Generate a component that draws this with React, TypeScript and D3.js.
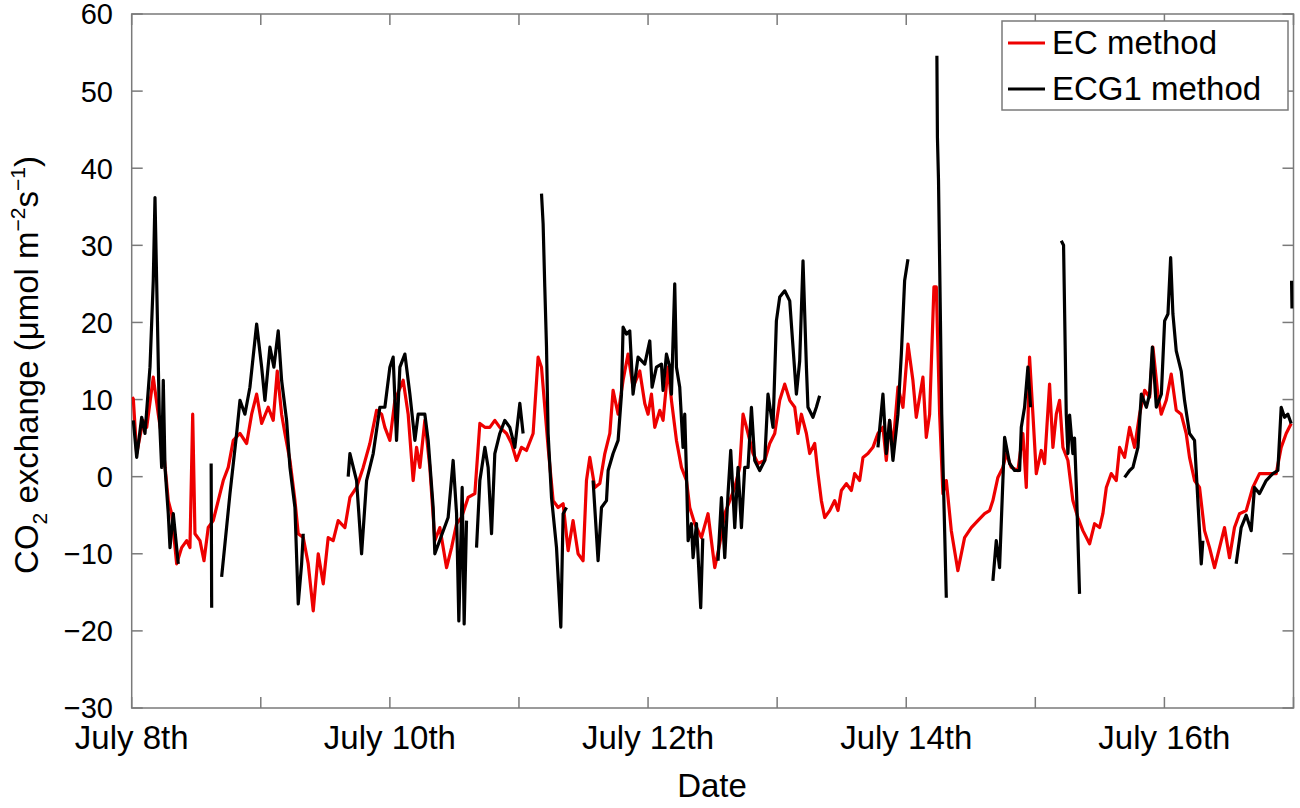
import * as d3 from "d3";

// hours since July 8th 00:00, CO2 exchange (umol m-2 s-1)
const ecSeries: [number, number][] = [
  [0.06, 10.3], [0.3, 10.1], [0.93, 3.0], [2.1, 7.3], [2.79, 6.4], [4.01, 12.9], [4.94, 8.1],
  [5.87, 3.8], [6.8, -3.1], [7.43, -4.8], [8.36, -11.3], [9.29, -9.2], [10.22, -8.3], [10.83, -9.2],
  [11.34, 8.1], [11.76, -7.4], [12.69, -8.3], [13.44, -10.9], [14.23, -6.6], [15.16, -5.7],
  [16.09, -3.1], [17.02, -0.5], [17.95, 1.2], [18.88, 4.7], [20.13, 5.6], [21.37, 4.3], [22.3, 8.1],
  [23.23, 10.7], [24.16, 6.9], [25.38, 9.0], [26.31, 7.3], [27.06, 13.7], [27.87, 8.1], [28.49, 5.6],
  [29.42, 2.1], [30.35, -3.1], [30.96, -7.4], [31.89, -7.9], [32.82, -11.3], [33.75, -17.4],
  [34.68, -10.0], [35.61, -13.9], [36.53, -7.9], [37.46, -8.3], [38.39, -5.7], [39.64, -6.6],
  [40.57, -2.7], [41.81, -1.4], [43.04, 1.2], [44.28, 4.3], [45.53, 8.6], [46.46, 8.1], [47.07, 6.4],
  [48.0, 4.7], [48.93, 9.9], [50.47, 12.5], [51.4, 8.1], [52.33, -0.5], [52.96, 3.8], [53.58, 1.2],
  [54.5, 7.3], [55.43, 1.2], [56.36, -8.3], [57.29, -6.6], [58.54, -11.8], [59.47, -9.2],
  [60.4, -6.1], [61.32, -5.3], [62.55, -2.7], [63.8, -2.2], [64.73, 6.9], [65.66, 6.4], [66.58, 6.4],
  [67.51, 7.3], [68.44, 6.4], [69.69, 5.6], [70.62, 4.3], [71.55, 2.1], [72.47, 3.8], [73.4, 3.4],
  [74.63, 5.6], [75.56, 15.5], [76.19, 14.2], [77.42, 3.8], [78.35, -3.1], [79.28, -4.0],
  [80.21, -3.5], [81.14, -9.6], [82.06, -5.7], [82.99, -10.0], [83.92, -10.9], [84.55, -0.5],
  [85.17, 2.5], [86.1, -1.4], [87.03, -0.9], [87.96, 3.0], [88.89, 5.6], [89.5, 11.2], [90.43, 8.1],
  [91.36, 12.5], [92.28, 15.9], [93.21, 11.6], [94.46, 13.7], [95.39, 9.5], [96.0, 8.1],
  [96.63, 10.7], [97.25, 6.4], [98.18, 8.6], [98.79, 7.3], [99.72, 14.2], [100.35, 9.9],
  [101.28, 4.7], [102.21, 1.2], [103.14, -0.5], [103.75, -4.0], [104.68, -6.1], [105.92, -7.9],
  [107.15, -4.8], [108.4, -11.8], [109.33, -8.7], [110.26, -4.8], [111.19, -3.1], [112.12, -1.4],
  [113.05, 1.2], [113.66, 8.1], [114.59, 5.6], [115.52, 3.0], [116.44, 1.7], [117.69, 2.1],
  [118.62, 4.3], [119.55, 5.6], [120.48, 9.9], [121.41, 12.0], [122.34, 9.9], [123.27, 9.0],
  [123.88, 5.6], [124.51, 8.1], [125.44, 5.6], [126.05, 3.0], [126.98, 4.3], [127.59, 0.4],
  [128.22, -3.1], [128.84, -5.3], [129.77, -4.4], [130.7, -3.1], [131.31, -4.4], [131.94, -1.8],
  [132.87, -0.9], [133.8, -1.8], [134.41, 0.4], [135.34, -0.5], [135.96, 2.5], [136.88, 3.0],
  [137.81, 3.8], [138.74, 5.6], [139.67, 6.4], [140.3, 2.1], [140.91, 7.3], [141.53, 3.8],
  [142.46, 11.6], [143.39, 9.0], [144.32, 17.2], [145.24, 12.5], [145.87, 7.7], [147.1, 12.9],
  [147.73, 5.1], [148.35, 8.1], [149.15, 24.6], [149.59, 24.6], [150.21, 8.1], [150.82, -2.2],
  [151.45, -0.5], [152.38, -7.0], [153.6, -12.2], [154.85, -7.9], [156.1, -6.6], [157.32, -5.7],
  [158.57, -4.8], [159.5, -4.4], [160.11, -3.1], [161.04, -0.1], [161.97, 1.2], [162.6, 3.0],
  [163.53, 1.2], [164.76, 0.8], [165.69, 5.6], [166.32, -1.4], [166.93, 15.5], [167.55, 8.1],
  [168.18, 0.4], [169.11, 3.4], [169.72, 1.7], [170.65, 12.0], [171.27, 3.8], [171.9, 8.1],
  [172.51, 9.9], [173.13, 3.8], [174.06, 2.1], [174.98, -3.1], [175.91, -5.3], [176.84, -7.0],
  [178.09, -8.7], [179.02, -6.1], [179.95, -6.6], [180.56, -4.8], [181.2, -1.4], [182.12, 0.4],
  [183.05, -0.5], [183.67, 3.8], [184.6, 2.5], [185.53, 6.4], [186.46, 3.8], [187.39, 8.1],
  [188.32, 11.2], [189.25, 10.3], [189.86, 16.8], [190.78, 10.7], [191.41, 8.1], [192.34, 9.9],
  [193.27, 13.3], [194.2, 8.6], [195.12, 8.1], [196.05, 5.6], [196.67, 2.5], [197.6, -0.5],
  [198.53, -1.4], [199.46, -7.0], [200.39, -9.2], [201.32, -11.8], [202.25, -9.2], [203.17, -6.6],
  [204.1, -10.5], [205.03, -6.6], [205.96, -4.8], [207.21, -4.4], [208.43, -1.4], [209.68, 0.4],
  [210.92, 0.4], [212.78, 0.4], [213.71, 3.8], [214.64, 5.6], [215.57, 6.9],
];

// null marks a gap in the ECG1 record
const ecg1Series: [number, number | null][] = [
  [0.3, 7.3], [0.93, 2.5], [1.86, 7.7], [2.47, 5.6], [3.4, 14.2], [4.01, 25.4], [4.33, 36.2],
  [4.76, 21.1], [5.13, 8.1], [5.57, 1.2], [5.87, 12.5], [6.19, 1.2], [6.8, -4.8], [7.12, -9.2],
  [7.73, -4.8], [8.66, -11.3], [9.0, null],
  [14.77, 1.7], [14.87, -17.0], [15.5, null],
  [16.72, -13.0], [18.27, -2.2], [19.51, 5.6], [20.13, 9.9], [21.05, 8.1], [21.98, 11.6],
  [23.23, 19.8], [24.16, 14.2], [24.77, 9.9], [25.7, 16.8], [26.44, 14.2], [27.24, 18.9],
  [27.87, 12.5], [28.8, 7.3], [29.42, 1.2], [30.35, -4.0], [30.96, -16.5], [31.59, -11.3],
  [31.89, -7.4], [32.5, null],
  [40.25, 0.0], [40.57, 3.0], [41.81, -0.5], [42.74, -10.0], [43.67, -0.5], [44.9, 3.0],
  [46.14, 9.0], [47.07, 9.0], [48.0, 14.2], [48.61, 15.5], [49.24, 4.7], [49.86, 14.2],
  [50.79, 15.9], [51.72, 10.7], [52.65, 4.7], [53.26, 8.1], [54.5, 8.1], [55.12, 4.7],
  [56.05, -4.0], [56.36, -10.0], [58.83, -5.3], [59.76, 2.1], [60.4, -4.8], [60.82, -18.7],
  [61.44, -1.4], [61.81, -19.1], [62.25, -5.7], [63.0, null],
  [64.11, -9.2], [64.73, -0.5], [65.66, 3.8], [66.27, 1.2], [66.9, -7.4], [67.51, 3.0],
  [68.44, 5.6], [69.37, 7.3], [70.3, 6.4], [71.23, 3.8], [72.16, 9.5], [72.77, 5.6], [73.5, null],
  [76.19, 36.7], [76.49, 32.8], [76.8, 24.6], [77.12, 16.8], [77.42, 5.6], [78.05, -2.7],
  [78.98, -9.2], [79.78, -19.5], [80.21, -4.8], [80.84, -4.0], [81.5, null],
  [85.78, -0.5], [86.71, -10.9], [87.34, -4.0], [88.27, -3.1], [88.58, 0.8], [89.5, 3.0],
  [90.43, 4.7], [91.06, 10.7], [91.36, 19.4], [91.98, 18.5], [92.6, 18.9], [93.21, 10.7],
  [94.14, 15.5], [95.39, 14.6], [96.32, 17.6], [96.75, 11.6], [97.56, 14.2], [98.49, 14.6],
  [98.79, 11.2], [99.42, 15.9], [100.04, 14.2], [100.35, 10.7], [100.96, 25.0], [101.28, 14.2],
  [101.89, 11.6], [102.5, 3.8], [102.82, 8.1], [103.14, 0.4], [103.45, -8.3], [104.06, -6.1],
  [104.37, -10.5], [105.0, -6.1], [105.79, -17.0], [106.17, -8.0], [106.8, null],
  [109.01, -10.9], [109.64, -2.7], [110.26, -10.5], [110.87, -2.2], [111.37, 3.4], [112.12, -6.6],
  [112.73, 1.2], [113.36, -6.6], [113.97, 1.2], [114.59, 1.2], [115.22, 9.0], [115.83, 2.1],
  [116.76, 0.8], [117.69, 2.1], [118.3, 10.7], [119.23, 6.4], [119.86, 20.2], [120.48, 23.3],
  [121.41, 24.1], [122.34, 22.8], [122.95, 16.8], [123.58, 10.7], [124.19, 15.0], [124.81, 28.0],
  [125.44, 14.2], [125.73, 9.0], [126.66, 7.7], [127.29, 9.0], [127.9, 10.5], [128.5, null],
  [138.74, 3.8], [139.67, 10.7], [140.3, 3.0], [140.91, 7.3], [141.53, 2.1], [142.46, 8.1],
  [143.09, 15.9], [143.7, 25.4], [144.32, 28.2], [145.0, null],
  [149.7, 54.6], [149.8, 44.0], [150.0, 38.4], [150.6, 8.1], [151.45, -15.7], [152.0, null],
  [160.11, -13.5], [160.74, -8.3], [161.35, -11.8], [161.97, -0.5], [162.29, 5.1], [163.22, 1.7],
  [164.15, 0.8], [165.08, 0.8], [165.39, 6.4], [166.0, 9.0], [166.62, 14.2], [167.12, 9.0],
  [168.0, null],
  [172.82, 30.6], [173.25, 30.0], [173.75, 8.1], [174.06, 3.0], [174.37, 8.0], [174.98, 3.0],
  [175.29, 5.0], [175.67, -2.2], [176.22, -15.2], [177.0, null],
  [184.6, -0.1], [185.53, 0.8], [186.15, 1.2], [187.08, 3.8], [187.71, 10.7], [188.64, 9.0],
  [189.25, 10.7], [189.76, 16.8], [190.5, 9.0], [191.43, 10.7], [192.04, 20.2], [192.66, 21.1],
  [193.16, 28.4], [193.58, 21.1], [194.2, 16.3], [195.12, 13.7], [195.74, 9.9], [196.67, 5.6],
  [197.6, 4.7], [198.22, -3.1], [198.85, -11.3], [199.15, -8.3], [200.0, null],
  [205.34, -11.3], [206.27, -6.6], [207.21, -5.0], [208.14, -7.0], [208.75, -1.4], [209.68, -2.2],
  [210.92, -0.5], [212.16, 0.4], [213.09, 0.8], [213.71, 9.0], [214.33, 7.7], [214.95, 8.1],
  [215.57, 6.9], [215.6, null],
  [215.64, 25.4], [215.72, 21.8],
];

const dayTicks = [0, 1, 2, 3, 4, 5, 6, 7, 8, 9];
const dayLabels = ["July 8th", "", "July 10th", "", "July 12th", "", "July 14th", "", "July 16th", ""];
const yTicks = [-30, -20, -10, 0, 10, 20, 30, 40, 50, 60];

const W = 1300;
const H = 808;
const margin = { top: 14, right: 6.5, bottom: 100, left: 131.7 };
const font = "'Liberation Sans', Arial, Helvetica, sans-serif";
const axisColor = "#7a7a7a";

export default function App() {
  const x = d3.scaleLinear().domain([0, 216]).range([margin.left, W - margin.right]);
  const y = d3.scaleLinear().domain([-30, 60]).range([H - margin.bottom, margin.top]);
  const x0 = margin.left;
  const x1 = W - margin.right;
  const y0 = H - margin.bottom;
  const y1 = margin.top;

  const ecLine = d3
    .line<[number, number]>()
    .x((d) => x(d[0]))
    .y((d) => y(d[1]));
  const ecgLine = d3
    .line<[number, number | null]>()
    .defined((d) => d[1] !== null)
    .x((d) => x(d[0]))
    .y((d) => y(d[1] as number));

  const tickLen = 11;

  return (
    <div style={{ position: "absolute", left: 0, top: 0 }}>
      <svg width={W} height={H} style={{ display: "block", background: "#fff" }} fontFamily={font}>
        <defs>
          <clipPath id="plot">
            <rect x={x0} y={y1} width={x1 - x0} height={y0 - y1} />
          </clipPath>
        </defs>

        {/* frame */}
        <rect x={x0} y={y1} width={x1 - x0} height={y0 - y1} fill="none" stroke={axisColor} strokeWidth={1.5} />

        {/* x ticks (top and bottom, inward) */}
        {dayTicks.map((d, i) => (
          <g key={"xt" + d}>
            <line x1={x(d * 24)} x2={x(d * 24)} y1={y0} y2={y0 - tickLen} stroke={axisColor} strokeWidth={1.5} />
            <line x1={x(d * 24)} x2={x(d * 24)} y1={y1} y2={y1 + tickLen} stroke={axisColor} strokeWidth={1.5} />
            {dayLabels[i] && (
              <text x={x(d * 24)} y={749} textAnchor="middle" fontSize={33} fill="#000">
                {dayLabels[i]}
              </text>
            )}
          </g>
        ))}

        {/* y ticks (left and right, inward) */}
        {yTicks.map((v) => (
          <g key={"yt" + v}>
            <line x1={x0} x2={x0 + tickLen} y1={y(v)} y2={y(v)} stroke={axisColor} strokeWidth={1.5} />
            <line x1={x1} x2={x1 - tickLen} y1={y(v)} y2={y(v)} stroke={axisColor} strokeWidth={1.5} />
            <text x={113} y={y(v)} dy="0.36em" textAnchor="end" fontSize={29} fill="#000">
              {v < 0 ? "\u2212" + Math.abs(v) : v}
            </text>
          </g>
        ))}

        {/* series */}
        <g clipPath="url(#plot)" fill="none" strokeLinejoin="round">
          <path d={ecLine(ecSeries) ?? ""} stroke="#ee0000" strokeWidth={3.2} />
          <path d={ecgLine(ecg1Series) ?? ""} stroke="#000" strokeWidth={3.2} />
        </g>

        {/* axis titles */}
        <text x={712} y={797} textAnchor="middle" fontSize={33} fill="#000">
          Date
        </text>
        <text
          transform={`translate(38,365) rotate(-90)`}
          textAnchor="middle"
          fontSize={33}
          fill="#000"
        >
          CO
          <tspan fontSize={21} dy={9}>2</tspan>
          <tspan dy={-9}> exchange (μmol m</tspan>
          <tspan fontSize={21} dy={-13}>−2</tspan>
          <tspan dy={13}>s</tspan>
          <tspan fontSize={21} dy={-13}>−1</tspan>
          <tspan dy={13}>)</tspan>
        </text>

        {/* legend */}
        <g>
          <rect x={1002} y={21} width={286} height={89} fill="#fff" stroke={axisColor} strokeWidth={1.5} />
          <line x1={1008} x2={1045} y1={43} y2={43} stroke="#ee0000" strokeWidth={3} />
          <text x={1052} y={54} fontSize={33} fill="#000">EC method</text>
          <line x1={1008} x2={1045} y1={89} y2={89} stroke="#000" strokeWidth={3} />
          <text x={1052} y={100} fontSize={33} fill="#000">ECG1 method</text>
        </g>
      </svg>
    </div>
  );
}
